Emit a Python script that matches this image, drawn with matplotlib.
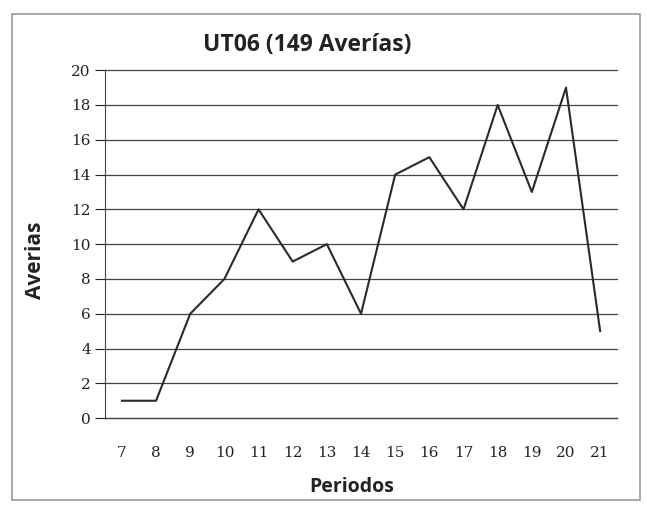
import matplotlib.pyplot as plt
from matplotlib.patches import Rectangle

periodos = [7, 8, 9, 10, 11, 12, 13, 14, 15, 16, 17, 18, 19, 20, 21]
averias = [1, 1, 6, 8, 12, 9, 10, 6, 14, 15, 12, 18, 13, 19, 5]
yticks = list(range(0, 21, 2))

fig = plt.figure(figsize=(6.47, 5.05), dpi=100)
ax = fig.add_axes([0.162, 0.172, 0.792, 0.689])

# marco exterior del grafico
fig.patches.append(Rectangle((0.019, 0.01), 0.970, 0.962, transform=fig.transFigure,
                             fill=False, edgecolor='#9a9a9a', linewidth=1.2))

ax.plot(periodos, averias, color='#2a2a2a', linewidth=1.5)

ax.set_xlim(6.5, 21.5)
ax.set_ylim(0, 20)
ax.set_xticks(periodos)
ax.set_yticks(yticks)
ax.tick_params(axis='x', length=0, pad=20, labelsize=11, colors='#222222')
ax.tick_params(axis='y', length=7, direction='out', pad=3, labelsize=11, colors='#222222')
for lab in ax.get_xticklabels() + ax.get_yticklabels():
    lab.set_family('DejaVu Serif')

ax.grid(axis='y', color='#444444', linewidth=0.9, clip_on=False)
ax.set_axisbelow(True)
for s in ['top', 'right', 'bottom']:
    ax.spines[s].set_visible(False)
ax.spines['left'].set_color('#444444')
ax.axhline(0, color='#444444', linewidth=0.9, clip_on=False)

fig.text(0.475, 0.91, 'UT06 (149 Averías)', ha='center', va='center',
         fontsize=16.5, fontweight='bold', family='Open Sans', color='#222222')
fig.text(0.055, 0.485, 'Averias', rotation=90, ha='center', va='center',
         fontsize=15, fontweight='bold', family='Open Sans', color='#222222')
fig.text(0.544, 0.036, 'Periodos', ha='center', va='center',
         fontsize=14, fontweight='bold', family='Open Sans', color='#222222')

fig.savefig('out.png', dpi=100)
